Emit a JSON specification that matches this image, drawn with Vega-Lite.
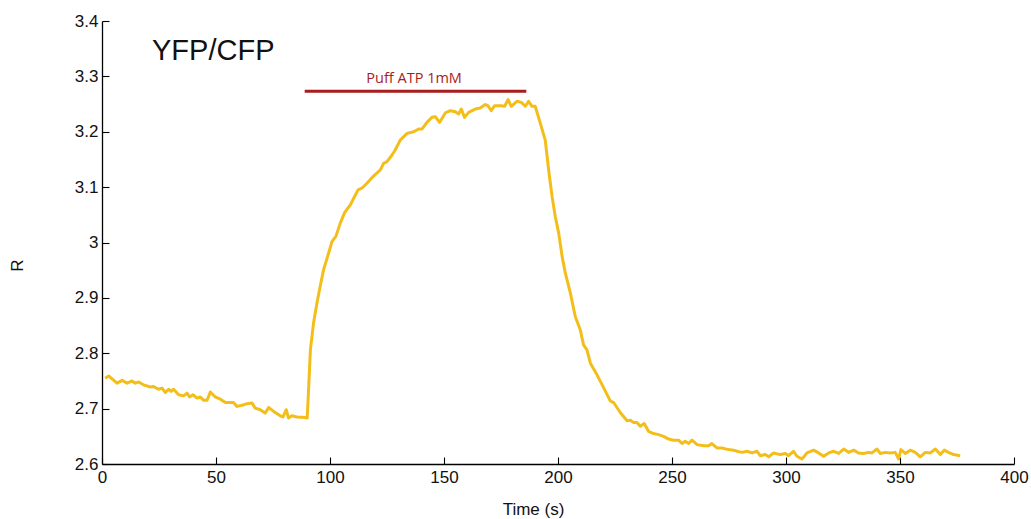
{
  "$schema": "https://vega.github.io/schema/vega-lite/v6.json",
  "autosize": {"type": "none"},
  "padding": {"left": 102, "top": 21, "right": 17, "bottom": 55},
  "width": 912,
  "height": 443,
  "background": "white",
  "config": {
    "view": {"stroke": null},
    "axis": {"grid": false, "labelFlush": false, "labelOverlap": false, "domainColor": "#000", "domainWidth": 1.3, "tickColor": "#000", "tickWidth": 1.1, "labelFont": "Liberation Sans", "labelFontSize": 17, "labelColor": "#111", "titleFont": "Liberation Sans", "titleFontSize": 17, "titleFontWeight": "normal", "titleColor": "#111"}
  },
  "datasets": {
    "series": [
      {"t": 1.4, "r": 2.755}, {"t": 2.9, "r": 2.759}, {"t": 6.6, "r": 2.746}, {"t": 8.8, "r": 2.751}, {"t": 11.0, "r": 2.746},
      {"t": 13.2, "r": 2.750}, {"t": 14.6, "r": 2.746}, {"t": 16.1, "r": 2.748}, {"t": 18.2, "r": 2.743}, {"t": 21.2, "r": 2.739},
      {"t": 22.6, "r": 2.740}, {"t": 24.8, "r": 2.735}, {"t": 26.3, "r": 2.737}, {"t": 27.8, "r": 2.729}, {"t": 29.2, "r": 2.735},
      {"t": 30.3, "r": 2.731}, {"t": 31.4, "r": 2.735}, {"t": 33.6, "r": 2.725}, {"t": 35.8, "r": 2.723}, {"t": 37.3, "r": 2.728},
      {"t": 38.4, "r": 2.721}, {"t": 39.9, "r": 2.725}, {"t": 41.7, "r": 2.719}, {"t": 43.1, "r": 2.721}, {"t": 44.6, "r": 2.715},
      {"t": 46.1, "r": 2.715}, {"t": 47.5, "r": 2.730}, {"t": 49.7, "r": 2.721}, {"t": 51.9, "r": 2.717}, {"t": 54.1, "r": 2.711},
      {"t": 57.7, "r": 2.711}, {"t": 59.2, "r": 2.704}, {"t": 61.4, "r": 2.706}, {"t": 63.6, "r": 2.709}, {"t": 65.8, "r": 2.710},
      {"t": 67.2, "r": 2.701}, {"t": 69.4, "r": 2.698}, {"t": 71.6, "r": 2.692}, {"t": 73.1, "r": 2.702}, {"t": 75.3, "r": 2.695},
      {"t": 78.2, "r": 2.687}, {"t": 79.4, "r": 2.685}, {"t": 80.8, "r": 2.698}, {"t": 81.8, "r": 2.683}, {"t": 83.3, "r": 2.687},
      {"t": 85.5, "r": 2.685}, {"t": 89.2, "r": 2.684}, {"t": 90.0, "r": 2.683},
      {"t": 90.6, "r": 2.734}, {"t": 91.4, "r": 2.806}, {"t": 92.8, "r": 2.855}, {"t": 94.3, "r": 2.891}, {"t": 95.7, "r": 2.921},
      {"t": 97.2, "r": 2.951}, {"t": 99.4, "r": 2.981}, {"t": 100.9, "r": 3.002}, {"t": 102.6, "r": 3.011}, {"t": 104.5, "r": 3.035},
      {"t": 106.4, "r": 3.054}, {"t": 108.9, "r": 3.068}, {"t": 110.4, "r": 3.080}, {"t": 112.3, "r": 3.095}, {"t": 114.0, "r": 3.098},
      {"t": 116.2, "r": 3.107}, {"t": 119.1, "r": 3.120}, {"t": 122.1, "r": 3.131}, {"t": 123.5, "r": 3.143}, {"t": 125.0, "r": 3.146},
      {"t": 127.2, "r": 3.158}, {"t": 128.6, "r": 3.167}, {"t": 130.8, "r": 3.185}, {"t": 133.8, "r": 3.197}, {"t": 136.7, "r": 3.200},
      {"t": 138.9, "r": 3.205}, {"t": 140.4, "r": 3.205}, {"t": 142.5, "r": 3.217}, {"t": 144.7, "r": 3.226}, {"t": 146.2, "r": 3.227},
      {"t": 148.1, "r": 3.217}, {"t": 150.6, "r": 3.234}, {"t": 152.8, "r": 3.238}, {"t": 155.0, "r": 3.236}, {"t": 156.4, "r": 3.232},
      {"t": 157.6, "r": 3.241}, {"t": 159.0, "r": 3.226}, {"t": 160.8, "r": 3.235}, {"t": 163.7, "r": 3.241}, {"t": 165.9, "r": 3.243},
      {"t": 168.1, "r": 3.249}, {"t": 169.3, "r": 3.247}, {"t": 170.7, "r": 3.238}, {"t": 172.2, "r": 3.247}, {"t": 175.1, "r": 3.247},
      {"t": 176.6, "r": 3.246}, {"t": 178.1, "r": 3.258}, {"t": 179.5, "r": 3.246}, {"t": 182.0, "r": 3.255}, {"t": 183.9, "r": 3.253},
      {"t": 185.7, "r": 3.246}, {"t": 187.1, "r": 3.255}, {"t": 188.6, "r": 3.246}, {"t": 190.0, "r": 3.246}, {"t": 192.2, "r": 3.216},
      {"t": 194.4, "r": 3.185}, {"t": 195.9, "r": 3.131}, {"t": 197.4, "r": 3.083}, {"t": 198.8, "r": 3.047}, {"t": 200.3, "r": 3.017},
      {"t": 201.8, "r": 2.975}, {"t": 203.2, "r": 2.945}, {"t": 205.4, "r": 2.909}, {"t": 207.6, "r": 2.866}, {"t": 209.8, "r": 2.842},
      {"t": 211.2, "r": 2.815}, {"t": 212.7, "r": 2.806}, {"t": 214.2, "r": 2.782}, {"t": 217.1, "r": 2.761}, {"t": 220.0, "r": 2.738},
      {"t": 222.9, "r": 2.714}, {"t": 224.4, "r": 2.711}, {"t": 227.3, "r": 2.693}, {"t": 230.3, "r": 2.678}, {"t": 231.7, "r": 2.679},
      {"t": 233.2, "r": 2.675}, {"t": 234.6, "r": 2.675}, {"t": 236.1, "r": 2.668}, {"t": 237.8, "r": 2.673}, {"t": 239.7, "r": 2.659},
      {"t": 241.9, "r": 2.655}, {"t": 244.1, "r": 2.653}, {"t": 246.3, "r": 2.650}, {"t": 248.5, "r": 2.645}, {"t": 250.7, "r": 2.643},
      {"t": 252.9, "r": 2.643}, {"t": 254.4, "r": 2.637}, {"t": 255.8, "r": 2.641}, {"t": 257.3, "r": 2.637}, {"t": 258.8, "r": 2.643},
      {"t": 261.0, "r": 2.635}, {"t": 263.9, "r": 2.633}, {"t": 266.1, "r": 2.633}, {"t": 267.5, "r": 2.637}, {"t": 269.7, "r": 2.629},
      {"t": 271.9, "r": 2.629}, {"t": 274.8, "r": 2.626}, {"t": 277.0, "r": 2.625}, {"t": 278.5, "r": 2.623}, {"t": 280.7, "r": 2.621},
      {"t": 282.9, "r": 2.623}, {"t": 285.1, "r": 2.620}, {"t": 287.3, "r": 2.623}, {"t": 288.7, "r": 2.615}, {"t": 290.9, "r": 2.617},
      {"t": 292.4, "r": 2.613}, {"t": 294.6, "r": 2.620}, {"t": 297.5, "r": 2.617}, {"t": 299.7, "r": 2.619}, {"t": 301.1, "r": 2.615},
      {"t": 303.3, "r": 2.623}, {"t": 304.8, "r": 2.614}, {"t": 307.0, "r": 2.609}, {"t": 309.2, "r": 2.620}, {"t": 312.1, "r": 2.625},
      {"t": 314.3, "r": 2.620}, {"t": 316.5, "r": 2.614}, {"t": 318.7, "r": 2.620}, {"t": 320.9, "r": 2.623}, {"t": 323.1, "r": 2.619},
      {"t": 325.3, "r": 2.627}, {"t": 327.5, "r": 2.621}, {"t": 329.7, "r": 2.625}, {"t": 331.8, "r": 2.620}, {"t": 334.0, "r": 2.619},
      {"t": 336.2, "r": 2.621}, {"t": 337.7, "r": 2.620}, {"t": 339.9, "r": 2.627}, {"t": 341.4, "r": 2.619}, {"t": 343.6, "r": 2.621},
      {"t": 345.7, "r": 2.620}, {"t": 347.9, "r": 2.621}, {"t": 349.4, "r": 2.609}, {"t": 350.4, "r": 2.626}, {"t": 352.3, "r": 2.619},
      {"t": 354.5, "r": 2.625}, {"t": 356.7, "r": 2.621}, {"t": 358.9, "r": 2.613}, {"t": 361.1, "r": 2.621}, {"t": 363.3, "r": 2.620},
      {"t": 365.5, "r": 2.627}, {"t": 367.7, "r": 2.617}, {"t": 369.4, "r": 2.625}, {"t": 371.3, "r": 2.621}, {"t": 373.5, "r": 2.617},
      {"t": 376.4, "r": 2.615}
    ],
    "puff": [{"start": 88.9, "end": 186.1, "level": 3.273, "mid": 136.9, "labelLevel": 3.2875, "label": "Puff ATP 1mM"}],
    "heading": [{"t": 48.8, "r": 3.3296, "label": "YFP/CFP"}]
  },
  "layer": [
    {
      "data": {"name": "series"},
      "mark": {"type": "line", "color": "#f4be1a", "strokeWidth": 3, "strokeJoin": "round", "clip": true},
      "encoding": {
        "x": {"field": "t", "type": "quantitative", "scale": {"domain": [0, 400], "nice": false},
          "axis": {"values": [0, 50, 100, 150, 200, 250, 300, 350, 400], "tickSize": -7, "labelPadding": 12, "title": "Time (s)", "titlePadding": 16, "titleX": 431}},
        "y": {"field": "r", "type": "quantitative", "scale": {"domain": [2.6, 3.4], "nice": false, "zero": false},
          "axis": {"values": [2.6, 2.7, 2.8, 2.9, 3.0, 3.1, 3.2, 3.3, 3.4], "format": ".1~f", "tickSize": -7, "labelPadding": 11, "title": "R", "titleX": -76, "titleY": 244}}
      }
    },
    {
      "data": {"name": "puff"},
      "mark": {"type": "rule", "color": "#a81c1c", "strokeWidth": 3},
      "encoding": {
        "x": {"field": "start", "type": "quantitative"},
        "x2": {"field": "end"},
        "y": {"field": "level", "type": "quantitative"}
      }
    },
    {
      "data": {"name": "puff"},
      "mark": {"type": "text", "color": "#a81c1c", "font": "Open Sans", "fontSize": 14.5, "align": "center", "baseline": "alphabetic"},
      "encoding": {
        "x": {"field": "mid", "type": "quantitative"},
        "y": {"field": "labelLevel", "type": "quantitative"},
        "text": {"field": "label"}
      }
    },
    {
      "data": {"name": "heading"},
      "mark": {"type": "text", "color": "#111", "font": "Liberation Sans", "fontSize": 29, "align": "center", "baseline": "alphabetic"},
      "encoding": {
        "x": {"field": "t", "type": "quantitative"},
        "y": {"field": "r", "type": "quantitative"},
        "text": {"field": "label"}
      }
    }
  ]
}
